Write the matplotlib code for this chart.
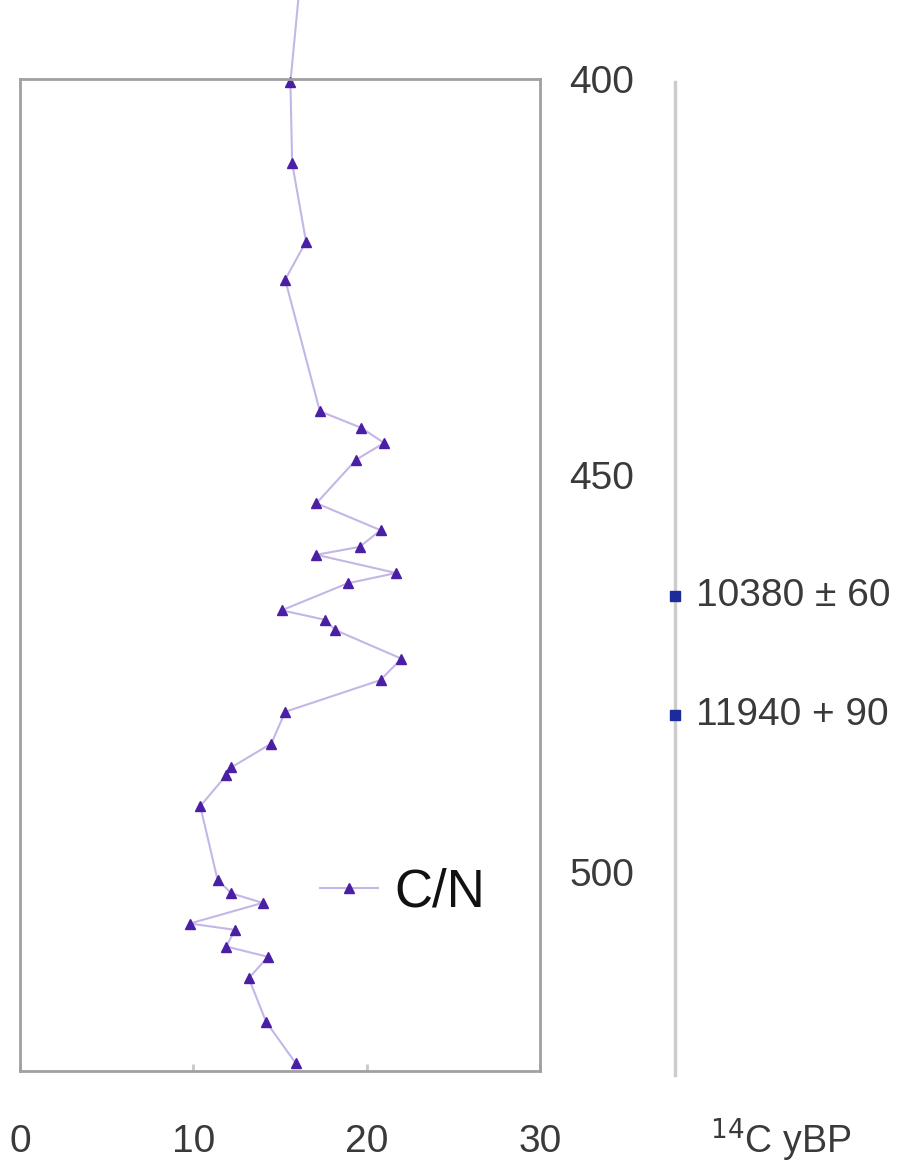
import matplotlib.pyplot as plt

plt.rcParams['font.family'] = ['Liberation Sans', 'DejaVu Sans']

# profundidade (cm) e razao C/N
profundidade = [389, 400.4, 410.6, 420.5, 425.3, 441.9, 444.0, 445.9, 448.0, 453.5,
                456.9, 459.0, 460.0, 462.3, 463.6, 467.0, 468.2, 469.5, 473.1, 475.8,
                479.8, 483.8, 486.8, 487.8, 491.7, 501.0, 502.7, 503.9, 506.5, 507.3,
                509.4, 510.7, 513.4, 518.9, 524.1]
cn = [16.1, 15.6, 15.7, 16.5, 15.3, 17.3, 19.7, 21.0, 19.4, 17.1,
      20.8, 19.6, 17.1, 21.7, 18.9, 15.1, 17.6, 18.2, 22.0, 20.8,
      15.3, 14.5, 12.2, 11.9, 10.4, 11.4, 12.2, 14.0, 9.8, 12.4,
      11.9, 14.3, 13.2, 14.2, 15.9]

# datacoes 14C
prof_datas = [465, 480]
rotulos_datas = ['10380 ± 60', '11940 + 90']

xticks = [0, 10, 20, 30]
yticks = [400, 450, 500]

W, H = 901, 1164
fig = plt.figure(figsize=(W / 100, H / 100), dpi=100)

topo, base = 79, 1071
ax = fig.add_axes([20 / W, (H - base) / H, 520 / W, (base - topo) / H])
ax.plot(cn, profundidade, color='#c4b6e6', lw=1.5, marker='^', markersize=7,
        markerfacecolor='#4a1fa6', markeredgecolor='#4a1fa6', clip_on=False, label='C/N')
ax.set_xlim(0, 30)
ax.set_ylim(525.1, 400)
ax.set_xticks(xticks)
ax.set_yticks(yticks)
ax.yaxis.tick_right()
for s in ax.spines.values():
    s.set_color('#a0a0a0')
    s.set_linewidth(2)
ax.tick_params(axis='x', direction='in', length=5, width=2, color='#c8c8c8',
               pad=38, labelsize=28, labelcolor='#3a3a3a')
ax.tick_params(axis='y', length=0, pad=21, labelsize=28, labelcolor='#3a3a3a')

leg = ax.legend(loc='center left', bbox_to_anchor=(0.577, 0.18), frameon=False,
                fontsize=38, handlelength=1.1, handletextpad=0.3,
                borderpad=0, borderaxespad=0)
for t in leg.get_texts():
    t.set_color('#111111')

# eixo das datacoes
ax2 = fig.add_axes([675 / W, (H - 1075) / H, 0.001, (1075 - 82) / H])
ax2.set_ylim(525.3, 400.4)
ax2.set_xlim(0, 1)
for k in ['top', 'right', 'bottom']:
    ax2.spines[k].set_visible(False)
ax2.spines['left'].set_color('#cccccc')
ax2.spines['left'].set_linewidth(2.5)
ax2.set_xticks([])
ax2.set_yticks([])
ax2.plot([0] * len(prof_datas), prof_datas, 's', color='#1c2a9c', markersize=7,
         clip_on=False, zorder=5)
for p, r in zip(prof_datas, rotulos_datas):
    ax2.annotate(r, (0, p), xytext=(15, 0), textcoords='offset points',
                 va='center', ha='left', fontsize=28, color='#3a3a3a',
                 annotation_clip=False)

fig.text(710 / W, 1 - 1140 / H, '$^{14}$C yBP', fontsize=27, color='#3a3a3a',
         va='center', ha='left')

fig.savefig('out.png', dpi=100)
